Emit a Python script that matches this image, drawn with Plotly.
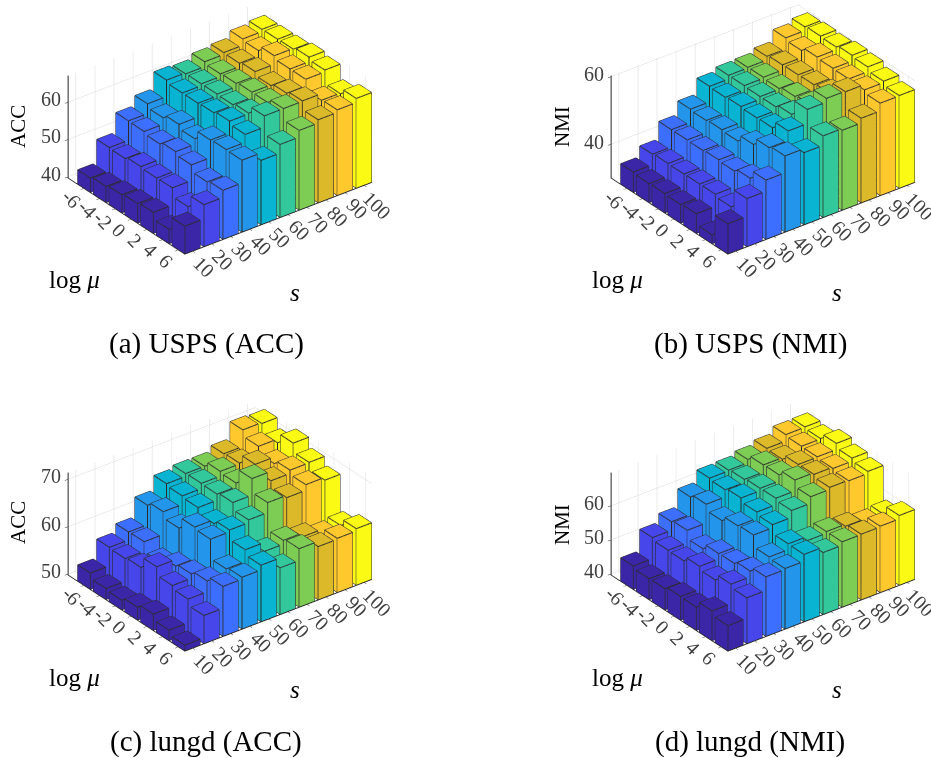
import plotly.graph_objects as go

s_values = [10, 20, 30, 40, 50, 60, 70, 80, 90, 100]
mu_labels = ["-6", "-4", "-2", "0", "2", "4", "6"]
colors = ["#3c26a8", "#4646eb", "#3c6eff", "#2396eb", "#08b4d2", "#32c89b", "#7dcd55", "#dcb928", "#ffc82d", "#fafa14"]

# rows: s = 10..100, columns: log mu = -6..6
usps_acc = [
    [43.5, 44.0, 44.5, 44.9, 45.3, 43.5, 47.1],
    [49.7, 49.5, 50.1, 49.8, 49.9, 47.6, 50.9],
    [54.9, 54.8, 54.2, 54.9, 54.1, 52.3, 52.8],
    [57.5, 56.5, 57.5, 56.4, 58.8, 59.0, 58.9],
    [61.9, 61.2, 61.2, 61.4, 61.9, 61.1, 56.9],
    [61.6, 61.7, 61.7, 61.6, 62.1, 64.1, 59.2],
    [62.9, 62.4, 62.6, 63.0, 63.0, 64.1, 61.0],
    [63.4, 63.3, 63.8, 62.8, 63.5, 64.2, 61.9],
    [65.1, 64.7, 66.1, 65.3, 65.3, 62.4, 62.6],
    [65.7, 65.8, 65.9, 66.5, 65.8, 62.2, 63.7],
]
usps_nmi = [
    [36.0, 35.6, 35.7, 35.5, 35.8, 32.6, 38.9],
    [39.1, 39.4, 39.3, 39.4, 39.4, 38.7, 44.2],
    [44.2, 44.2, 44.1, 44.4, 44.1, 45.0, 47.5],
    [48.1, 47.8, 48.1, 47.8, 49.8, 51.9, 52.5],
    [52.7, 52.5, 52.8, 52.5, 52.6, 54.7, 51.3],
    [53.8, 53.8, 53.6, 53.6, 54.4, 58.9, 54.1],
    [54.0, 54.1, 53.8, 54.5, 55.0, 60.0, 53.6],
    [55.1, 55.6, 55.7, 55.8, 56.3, 59.8, 55.0],
    [58.4, 57.7, 58.8, 58.5, 58.4, 58.2, 57.3],
    [59.5, 59.8, 59.6, 60.2, 59.8, 58.6, 57.4],
]
lungd_acc = [
    [53.2, 52.1, 51.8, 52.5, 53.2, 52.0, 51.0],
    [57.1, 56.9, 57.2, 59.5, 57.7, 57.0, 55.7],
    [58.8, 58.9, 56.8, 58.1, 58.6, 59.3, 60.3],
    [62.9, 63.7, 62.4, 64.8, 64.4, 60.3, 60.7],
    [65.9, 65.5, 65.2, 64.0, 64.8, 62.8, 61.7],
    [66.5, 66.6, 66.5, 66.9, 65.4, 60.9, 59.6],
    [66.5, 67.6, 67.3, 70.4, 67.5, 61.7, 62.1],
    [67.6, 67.8, 69.7, 68.4, 67.0, 60.9, 61.0],
    [71.1, 69.8, 68.3, 69.1, 68.2, 59.8, 61.2],
    [70.9, 69.0, 71.1, 69.2, 67.6, 60.2, 61.7],
]
lungd_nmi = [
    [46.5, 45.8, 45.9, 46.6, 46.5, 48.4, 47.1],
    [52.7, 52.0, 51.9, 53.3, 52.3, 54.1, 53.1],
    [55.2, 55.7, 53.3, 54.9, 55.0, 55.8, 57.1],
    [60.3, 61.2, 59.4, 60.9, 61.2, 57.8, 57.4],
    [63.7, 63.3, 63.9, 62.8, 62.1, 59.5, 59.4],
    [63.9, 64.2, 64.6, 64.7, 64.1, 58.3, 57.8],
    [64.9, 66.3, 66.4, 67.9, 66.0, 58.8, 58.8],
    [66.0, 65.8, 67.3, 67.4, 66.6, 58.2, 58.9],
    [67.9, 67.5, 67.4, 67.0, 66.4, 57.1, 59.1],
    [68.0, 67.6, 69.2, 67.9, 67.0, 57.5, 60.1],
]

panels = [
    dict(values=usps_acc, zrange=[39.7, 67.1], zticks=[40, 50, 60], ztitle="ACC", caption="(a) USPS (ACC)", cx=219.7, cy=129.0, tx=18, ty=127, lx=74, ly=279, sx=295, sy=292, capx=206, capy=344),
    dict(values=usps_nmi, zrange=[30.0, 60.3], zticks=[40, 60], ztitle="NMI", caption="(b) USPS (NMI)", cx=762.7, cy=129.5, tx=562, ty=127, lx=617, ly=279, sx=837, sy=292, capx=750, capy=344),
    dict(values=lungd_acc, zrange=[49.8, 71.4], zticks=[50, 60, 70], ztitle="ACC", caption="(c) lungd (ACC)", cx=219.7, cy=526.3, tx=18, ty=523, lx=74, ly=677, sx=295, sy=689, capx=206, capy=741),
    dict(values=lungd_nmi, zrange=[39.7, 69.7], zticks=[40, 50, 60], ztitle="NMI", caption="(d) lungd (NMI)", cx=762.7, cy=526.3, tx=562, ty=525, lx=617, ly=677, sx=837, sy=689, capx=750, capy=741),
]

W, H = 931, 758
SW, SH = 330, 258
EYE = 2.5
ZOOM = 1.486
FONT = "Liberation Serif"
TICK = "#404040"
EDGE = "#2b2b2b"

fig = go.Figure()
layout = {}
annotations = []

for k, p in enumerate(panels, start=1):
    z0 = p["zrange"][0]
    scene = f"scene{k}" if k > 1 else "scene"
    vx, vy, vz, fi, fj, fk, fc = [], [], [], [], [], [], []
    ex, ey, ez = [], [], []
    for si, row in enumerate(p["values"]):
        for mi, v in enumerate(row):
            xc = s_values[si]
            yc = 6 - mi
            x0, x1 = xc - 4, xc + 4
            y0, y1 = yc - 0.4, yc + 0.4
            n = len(vx)
            for zz in (z0, v):
                vx += [x0, x1, x1, x0]
                vy += [y0, y0, y1, y1]
                vz += [zz] * 4
            quads = [(4, 5, 6, 7), (0, 1, 5, 4), (1, 2, 6, 5), (2, 3, 7, 6), (3, 0, 4, 7)]
            for a, b, c, d in quads:
                fi += [n + a, n + a]
                fj += [n + b, n + c]
                fk += [n + c, n + d]
                fc += [colors[si], colors[si]]
            for a, b in [(0, 1), (1, 2), (2, 3), (3, 0), (4, 5), (5, 6), (6, 7), (7, 4), (0, 4), (1, 5), (2, 6), (3, 7)]:
                ex += [vx[n + a], vx[n + b], None]
                ey += [vy[n + a], vy[n + b], None]
                ez += [vz[n + a], vz[n + b], None]
    fig.add_trace(go.Mesh3d(x=vx, y=vy, z=vz, i=fi, j=fj, k=fk, facecolor=fc, flatshading=True,
                            lighting=dict(ambient=1, diffuse=0, specular=0, roughness=1, fresnel=0),
                            hoverinfo="skip", scene=scene, showscale=False))
    fig.add_trace(go.Scatter3d(x=ex, y=ey, z=ez, mode="lines", line=dict(color=EDGE, width=2),
                               hoverinfo="skip", scene=scene, showlegend=False))
    common = dict(title="", showbackground=False, showspikes=False, showticklabels=False,
                  showgrid=True, gridcolor="#d8d8d8", gridwidth=1, zeroline=False,
                  showline=True, linecolor="#262626", linewidth=2, ticks="outside", ticklen=4, tickcolor="#262626")
    scene_ann = []
    for si, s in enumerate(s_values):
        long_label = s >= 100
        scene_ann.append(dict(x=s, y=-0.4, z=z0, text=str(s), showarrow=False, textangle=45,
                              xshift=13 if long_label else 12, yshift=-20 if long_label else -16,
                              font=dict(family=FONT, size=20, color=TICK)))
    for mi, lab in enumerate(mu_labels):
        scene_ann.append(dict(x=6, y=6 - mi, z=z0, text=lab, showarrow=False, textangle=45,
                              xshift=-12, yshift=-11, font=dict(family=FONT, size=20, color=TICK)))
    for zt in p["zticks"]:
        scene_ann.append(dict(x=6, y=7, z=zt, text=str(zt), showarrow=False, xanchor="right",
                              xshift=-5, yshift=3, font=dict(family=FONT, size=20, color=TICK)))
    layout[scene] = dict(
        domain=dict(x=[(p["cx"] - SW / 2) / W, (p["cx"] + SW / 2) / W],
                    y=[1 - (p["cy"] + SH / 2) / H, 1 - (p["cy"] - SH / 2) / H]),
        # ranges sit a hair outside the bars so the faces on the box walls are not clipped
        xaxis=dict(range=[5.9, 104.1], tickvals=s_values, **common),
        yaxis=dict(range=[-0.41, 7], tickvals=list(range(7)), **common),
        zaxis=dict(range=[z0 - 0.03, p["zrange"][1]], tickvals=p["zticks"], **common),
        aspectmode="manual",
        aspectratio=dict(x=1.23 * ZOOM, y=1.0 * ZOOM, z=0.617 * ZOOM),
        camera=dict(projection=dict(type="orthographic"), up=dict(x=0, y=0, z=1), center=dict(x=0, y=0, z=0),
                    eye=dict(x=-0.527 * EYE, y=-0.687 * EYE, z=0.5 * EYE)),
        annotations=scene_ann,
        dragmode=False,
    )
    annotations += [
        dict(x=p["tx"] / W, y=1 - p["ty"] / H, text=p["ztitle"], textangle=-90, font=dict(family=FONT, size=21, color="black")),
        dict(x=p["lx"] / W, y=1 - p["ly"] / H, text="log <i>μ</i>", font=dict(family=FONT, size=25, color="black")),
        dict(x=p["sx"] / W, y=1 - p["sy"] / H, text="<i>s</i>", font=dict(family=FONT, size=25, color="black")),
        dict(x=p["capx"] / W, y=1 - p["capy"] / H, text=p["caption"], font=dict(family=FONT, size=29, color="black")),
    ]

for a in annotations:
    a.update(xref="paper", yref="paper", showarrow=False, xanchor="center", yanchor="middle")

fig.update_layout(width=W, height=H, margin=dict(l=0, r=0, t=0, b=0), paper_bgcolor="white",
                  showlegend=False, annotations=annotations, **layout)
fig.write_html("out.html", config=dict(displayModeBar=False),
               post_script="document.body.style.margin='0';")
